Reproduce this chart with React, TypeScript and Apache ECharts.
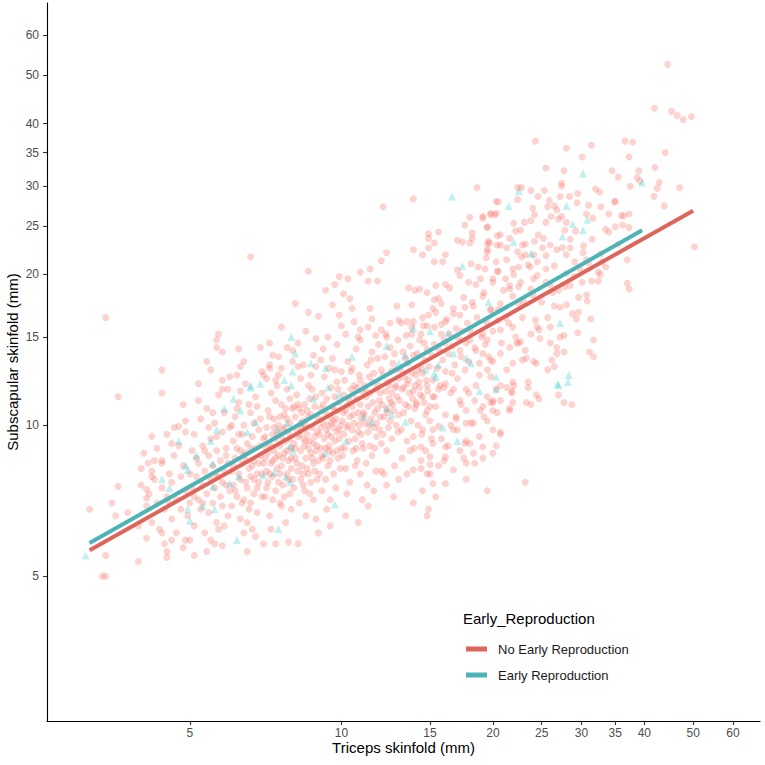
import React, { useEffect, useRef } from "react";
import * as echarts from "echarts";

// Axis tick labels (mm) shown on both log axes
const tickValues = [5, 10, 15, 20, 25, 30, 35, 40, 50, 60];
// Visible axis ranges (mm)
const xRange = [2.6, 67.9];
const yRange = [2.57, 69.6];

// Fitted lines (endpoints in mm)
const noFitX = [3.16, 50.0];
const noFitY = [5.63, 26.8];
const earlyFitX = [3.16, 39.6];
const earlyFitY = [5.82, 24.5];

// No Early Reproduction: [triceps, subscapular]
const noEarlyPoints: [number, number][] = [
  [3.16,6.8],[3.6,7.55],[3.5,7.0],[3.56,6.6],[3.76,6.7],[4.0,8.2],[4.13,8.4],[4.2,9.5],[3.4,5.5],[3.35,5.0],[3.4,5.0],[3.95,5.35],[4.1,5.95],[4.5,5.6],[4.5,5.45],[5.1,5.5],[4.9,5.9],[5.0,5.9],[5.6,5.8],[5.8,5.75],[6.5,5.6],[7.0,5.8],[7.85,5.85],[3.95,6.3],[4.4,6.1],[4.6,5.9],[4.1,7.15],[4.1,7.45],[4.2,7.9],[4.4,8.5],[4.6,9.2],[4.75,9.95],[4.9,10.2],[3.6,11.4],[4.4,11.6],[4.85,11.0],[3.4,16.4],[6.6,21.7],[4.4,12.9],[5.7,15.2],[5.65,14.8],[5.65,14.3],[5.8,14.0],[5.4,13.4],[6.25,14.2],[6.4,13.4],[5.8,12.3],[5.8,11.8],[6.2,12.6],[7.6,15.7],[7.2,14.6],[7.5,13.7],[7.2,13.2],[7.2,13.0],[7.0,12.6],[7.6,13.0],[7.4,12.3],[8.2,13.1],[8.0,14.1],
  [18.6,29.8],[13.9,28.3],[12.1,27.3],[20.3,28.0],[18.0,26.0],[19.1,25.9],[19.8,26.3],[20.2,26.3],[17.6,25.1],[19.5,24.8],[15.6,24.3],[14.9,24.1],[14.9,23.6],[15.3,23.1],[14.9,22.6],[18.2,24.2],[17.0,23.4],[17.4,23.2],[18.0,23.1],[18.2,23.6],[19.5,23.0],[19.7,23.1],[19.5,22.2],[20.4,23.9],[20.4,22.9],[13.9,22.4],[14.5,21.9],[12.3,22.1],[12.0,21.3],
  [27.7,11.1],[28.7,11.0],[27.0,11.5],[24.4,11.5],[24.7,11.3],[23.3,11.1],[23.8,11.0],[23.5,11.9],[23.5,12.2],[22.0,12.0],[21.6,10.8],[21.8,11.6],[20.7,12.0],[20.4,10.6],[20.7,9.7],[20.3,9.1],[20.0,8.8],[19.1,8.6],[18.4,8.4],[17.5,8.6],[18.0,9.2],[17.6,9.2],[17.0,9.8],[16.0,8.5],[16.3,9.1],[15.8,9.4],[15.0,8.35],[15.0,8.0],[14.7,8.9],[15.1,9.4],[15.2,9.8],[23.2,7.7],[19.5,7.4],[14.9,6.8],[14.8,6.6],[16.5,10.0],[16.9,10.3],[17.7,10.1],[18.1,10.1],[19.2,10.4],[18.9,10.7],[19.8,11.1],[20.0,11.2],
  [44.5,52.5],[41.9,42.9],[45.3,42.3],[46.5,41.5],[47.8,40.7],[49.6,41.3],[50.3,22.7],[44.0,35.0],[42.0,32.7],[42.8,30.5],[42.4,29.7],[41.8,28.6],[47.0,29.8],[43.8,27.4],[36.6,36.9],[37.9,36.7],[37.3,34.3],[39.0,32.2],[38.7,31.2],[39.2,30.7],[37.5,30.0],[34.5,32.2],[35.5,31.3],[35.0,27.9],[36.4,26.2],[37.3,26.4],[36.0,26.2],[35.0,24.9],[36.2,25.1],[37.3,24.8],[37.0,21.4],[37.0,19.2],[37.3,18.7],[31.4,36.2],[30.1,34.3],[28.0,35.7],[24.3,36.9],[25.5,32.6],[27.7,32.2],[27.4,30.4],[27.4,30.0],[29.5,29.0],[29.4,27.8],[28.4,28.6],[31.0,27.5],[32.0,29.6],[32.6,29.2],[32.8,27.3],[34.9,28.0],[33.5,24.6],[34.0,24.3],[31.6,25.9],[30.7,26.4],
  [31.7,14.8],[31.1,14.0],[31.7,13.7],[31.3,16.3],[29.6,18.0],[30.7,18.2],[30.8,17.7],[29.6,16.8],[28.0,17.4],[28.8,16.7],[29.3,16.3],[32.4,19.4],[32.7,20.0],[31.4,19.4],[32.4,20.2],[33.0,21.2],[30.7,21.4],[30.2,22.1],[27.2,15.0],[27.7,15.1],[26.0,14.6],[26.8,14.3],[26.8,13.9],[27.7,14.0],[25.7,12.9],[26.5,13.1],[24.4,13.3],[24.1,13.4],[22.3,14.6],[22.7,14.7],[22.9,13.5],[23.3,13.6],[24.5,15.7],[24.7,15.5],[21.3,11.9],[21.8,11.7],[19.8,12.5],[20.0,11.1],
  [22.4,29.8],[22.8,29.8],[23.8,29.4],[22.4,28.2],[25.3,29.4],[25.9,28.1],[26.5,27.4],[27.2,28.6],[24.6,28.6],[24.0,27.1],[24.2,26.3],[23.8,25.6],[23.1,25.4],[22.0,25.3],[22.2,24.4],[22.7,24.5],[22.9,22.9],[22.4,22.2],[22.8,21.7],[21.9,20.5],[25.7,27.3],[26.1,26.1],[25.5,25.4],[26.8,26.9],[27.0,25.8],[27.4,26.1],[28.0,25.4],[27.8,24.5],[24.6,24.0],[24.2,23.3],[25.1,22.6],[26.0,22.9],[24.1,21.9],[24.5,21.2],[23.7,20.7],[25.5,20.5],[24.1,19.6],[25.5,19.3],[22.7,19.3],[23.8,18.7],[21.9,18.1],[22.5,17.5],[26.3,18.4],[26.5,17.3],[28.0,21.9],[28.5,22.6],[29.1,21.2],[29.8,20.5],[30.1,19.3],[28.5,19.0],[27.2,17.2],[25.7,16.4],[24.3,16.2],[22.9,16.4],[23.8,15.2],[26.0,15.7],[21.9,15.7],[20.7,15.5],[19.5,14.8],[20.7,13.9],[19.8,13.5],
  [19.1,26.1],[19.8,26.5],[20.5,27.9],[20.3,26.5],[19.5,24.9],[20.7,24.0],[19.6,23.3],[19.5,22.4],[20.7,22.9],[21.3,22.6],[21.6,23.6],[20.3,21.2],[19.3,20.5],[20.5,20.3],[20.0,19.3],[21.2,19.6],[21.6,18.7],[20.7,17.5],[19.1,18.1],[19.8,17.0],[21.2,16.4],[19.1,15.2],[20.5,16.2],
  [8.6,20.3],[9.7,19.1],[9.9,19.8],[10.1,18.3],[10.9,20.2],[11.4,20.5],[11.3,19.4],[11.8,19.4],[10.5,17.1],[11.4,17.1],[11.5,16.3],[10.9,15.5],[11.3,15.7],[10.9,14.8],[11.7,15.1],[12.0,15.5],[12.3,15.0],[12.5,16.0],[12.9,17.3],[13.0,16.2],[13.5,16.1],[13.6,18.8],[13.8,17.4],[14.0,18.6],[14.3,18.7],[14.8,18.4],[15.3,17.8],[15.4,19.0],[16.1,19.1],[15.9,21.2],[15.3,21.2],[16.1,21.9],[17.2,19.9],[17.9,19.3],[18.5,19.1],[18.7,20.7],[19.4,21.6],[20.0,19.6],[20.4,20.3],[21.6,19.0],[22.5,20.7],[23.2,21.9],[18.3,17.3],[17.6,17.2],[16.7,16.7],[15.8,17.5],[15.2,17.1],[14.5,16.4],[14.8,15.8],[13.9,16.1],[13.8,15.2],[14.4,15.2],[15.3,15.7],[15.8,15.2],[16.1,16.1],
  [16.1,14.6],[17.2,14.1],[18.0,14.8],[18.5,14.1],[19.1,13.9],[18.8,13.3],[19.5,12.9],[20.0,13.4],[21.6,14.3],[22.5,14.6],[23.2,14.1],[21.9,13.3],[21.3,12.9],[21.9,12.2],[20.3,11.8],[19.5,11.4],[20.7,11.2],[21.9,11.1],[21.6,10.7],[20.0,10.7],[19.1,10.9],[18.4,11.2],[17.7,11.8],[17.2,11.2],[16.7,11.8],[16.1,12.1],[15.6,11.8],[15.2,11.4],[14.5,11.4],[14.1,11.1],[14.8,10.7],[15.4,10.9],[16.1,10.5],[16.9,10.4],[17.7,10.7],[18.3,10.1],[19.5,10.2],[20.0,9.8],[20.7,9.6],[18.8,9.5],[17.7,9.3],[16.7,9.8],[15.6,9.95],[15.0,10.2],[14.5,9.8],[13.9,9.5],[14.4,9.05],[15.2,9.2],[16.1,9.05],[17.2,8.9],[18.3,8.8],[19.1,9.05],[17.7,8.4],[16.1,8.65],[15.0,8.65],[14.4,8.5],[13.9,8.15],[14.8,8.0],[15.6,8.3],[16.7,8.15],[17.7,7.8],[16.1,7.65],[15.2,7.65],[14.5,7.4],[15.4,7.2],[13.9,7.0],
  [4.0,7.6],[4.05,8.8],[4.1,6.9],[4.15,7.3],[4.2,8.1],[4.2,6.4],[4.25,7.8],[4.3,9.0],[4.3,7.0],[4.35,6.2],[4.4,7.5],[4.4,8.4],[4.45,6.8],[4.5,9.6],[4.5,7.2],[4.55,8.0],[4.6,6.5],[4.6,7.7],[4.65,8.7],[4.7,7.1],[4.7,6.1],[4.75,9.1],[4.8,7.9],[4.8,6.8],[4.85,8.3],[4.9,7.4],[4.9,9.7],[4.95,6.6],[5.0,8.0],[5.0,7.0],[4.45,5.8],[4.65,9.9],[4.85,5.7],[4.25,8.5],[4.55,7.0],
  [5.05,7.5],[5.05,8.9],[5.1,6.3],[5.1,9.6],[5.15,7.9],[5.2,7.1],[5.2,8.4],[5.25,10.3],[5.25,6.8],[5.3,7.6],[5.3,9.1],[5.35,8.1],[5.35,6.1],[5.4,7.3],[5.4,10.8],[5.45,8.7],[5.45,6.7],[5.5,7.8],[5.5,9.4],[5.5,5.9],[5.55,8.3],[5.55,7.0],[5.6,10.1],[5.6,7.5],[5.65,8.9],[5.65,6.4],[5.7,7.9],[5.7,11.5],[5.75,8.5],[5.75,7.2],[5.8,9.7],[5.8,6.9],[5.85,8.1],[5.85,10.6],[5.9,7.6],[5.9,9.0],[5.95,6.6],[5.95,8.4],[6.0,7.4],[6.0,9.9],[5.15,8.6],[5.3,7.0],[5.45,9.9],[5.6,8.0],[5.7,6.2],[5.9,8.7],[5.2,11.2],[5.4,5.6],[5.65,9.5],[5.8,7.7],[5.35,8.9],[5.55,10.6],[5.85,6.3],[5.1,7.2],[5.95,11.8],
  [6.05,8.1],[6.05,6.9],[6.1,9.3],[6.1,7.6],[6.15,10.4],[6.15,8.6],[6.2,7.2],[6.2,9.0],[6.25,11.1],[6.25,8.0],[6.3,6.5],[6.3,7.8],[6.35,9.6],[6.35,8.4],[6.4,7.1],[6.4,10.0],[6.45,8.8],[6.45,12.1],[6.5,7.5],[6.5,9.2],[6.55,6.8],[6.55,8.2],[6.6,10.6],[6.6,7.9],[6.65,9.5],[6.65,6.2],[6.7,8.5],[6.7,7.3],[6.75,11.4],[6.75,9.0],[6.8,8.0],[6.8,6.7],[6.85,9.8],[6.85,7.7],[6.9,10.3],[6.9,8.7],[6.95,7.2],[6.95,12.8],[7.0,8.4],[7.0,9.4],[6.1,8.3],[6.2,10.8],[6.3,8.9],[6.4,6.1],[6.5,8.5],[6.6,9.0],[6.7,10.1],[6.8,7.5],[6.9,9.1],[6.15,7.4],[6.35,7.0],[6.55,11.0],[6.75,6.0],[6.95,8.0],[6.45,7.7],[6.65,8.3],[6.85,8.4],[6.25,9.6],[6.6,7.0],[6.05,10.0],[6.4,8.7],[6.8,10.9],[6.3,11.7],[6.7,7.8],[6.5,6.4],
  [7.05,8.6],[7.05,7.2],[7.1,9.9],[7.1,8.1],[7.15,10.7],[7.15,7.7],[7.2,9.2],[7.2,6.6],[7.25,8.4],[7.25,11.6],[7.3,9.6],[7.3,7.9],[7.35,8.9],[7.35,10.3],[7.4,7.4],[7.4,9.4],[7.45,8.2],[7.45,12.0],[7.5,10.0],[7.5,8.7],[7.55,7.0],[7.55,9.1],[7.6,11.0],[7.6,8.3],[7.65,9.8],[7.65,7.6],[7.7,8.8],[7.7,10.5],[7.75,6.4],[7.75,9.3],[7.8,8.0],[7.8,11.8],[7.85,9.7],[7.85,8.5],[7.9,7.3],[7.9,10.1],[7.95,9.0],[7.95,8.2],[8.0,10.8],[8.0,7.8],[7.1,9.0],[7.2,10.4],[7.3,7.1],[7.4,11.2],[7.5,7.7],[7.6,9.5],[7.7,7.2],[7.8,8.9],[7.9,9.4],[7.15,8.8],[7.35,9.9],[7.55,8.0],[7.75,10.8],[7.95,6.8],[7.25,6.2],[7.45,9.7],[7.65,8.6],[7.85,7.8],[7.05,9.5],[7.5,12.6],[7.7,9.9],[7.3,8.5],[7.9,11.3],[7.6,6.9],[7.4,8.6],[7.8,10.3],[7.1,7.5],[7.55,10.4],[7.2,8.0],[7.95,8.6],
  [8.05,9.2],[8.05,7.5],[8.1,10.4],[8.1,8.6],[8.15,9.8],[8.15,11.5],[8.2,8.1],[8.2,9.5],[8.25,7.0],[8.25,10.8],[8.3,8.9],[8.3,12.4],[8.35,9.9],[8.35,8.3],[8.4,7.6],[8.4,10.2],[8.45,9.1],[8.45,11.0],[8.5,8.6],[8.5,6.6],[8.55,9.6],[8.55,10.7],[8.6,8.0],[8.6,12.0],[8.65,9.3],[8.65,7.3],[8.7,10.5],[8.7,8.8],[8.75,9.9],[8.75,11.8],[8.8,8.4],[8.8,7.1],[8.85,9.5],[8.85,10.9],[8.9,8.9],[8.9,13.1],[8.95,9.7],[8.95,7.8],[9.0,10.3],[9.0,8.5],[8.1,9.0],[8.2,11.0],[8.3,7.8],[8.4,9.4],[8.5,10.0],[8.6,9.0],[8.7,7.7],[8.8,9.2],[8.9,11.4],[8.15,8.4],[8.35,10.6],[8.55,8.2],[8.75,8.6],[8.95,9.1],[8.25,9.6],[8.45,7.4],[8.65,11.3],[8.85,8.1],[8.05,10.9],[8.5,9.3],[8.7,12.6],[8.3,10.1],[8.9,6.5],[8.6,10.4],[8.4,8.0],
  [9.05,9.6],[9.05,8.0],[9.1,10.8],[9.1,9.0],[9.15,11.6],[9.15,7.4],[9.2,10.1],[9.2,8.6],[9.25,12.5],[9.25,9.4],[9.3,7.8],[9.3,10.6],[9.35,9.8],[9.35,11.3],[9.4,8.3],[9.4,10.0],[9.45,9.1],[9.45,13.0],[9.5,10.4],[9.5,7.1],[9.55,9.5],[9.55,11.9],[9.6,8.8],[9.6,10.9],[9.65,9.9],[9.65,8.0],[9.7,11.4],[9.7,9.3],[9.75,10.3],[9.75,7.5],[9.8,9.7],[9.8,12.2],[9.85,8.6],[9.85,10.7],[9.9,9.4],[9.9,11.1],[9.95,8.2],[9.95,10.0],[10.0,9.0],[10.0,12.8],[9.1,9.9],[9.3,9.0],[9.5,8.5],[9.7,10.7],[9.9,9.8],[9.2,11.0],[9.4,9.6],[9.6,13.6],[9.8,8.9],[9.35,6.8],[9.65,10.2],[9.15,8.7],[9.55,10.1],[9.85,11.8],[9.45,8.9],
  [10.05,10.2],[10.05,8.7],[10.1,11.5],[10.1,9.6],[10.15,12.3],[10.2,10.7],[10.2,8.2],[10.25,9.9],[10.3,11.0],[10.3,13.4],[10.35,9.3],[10.4,10.4],[10.4,7.7],[10.45,11.8],[10.5,9.8],[10.5,10.9],[10.55,8.9],[10.6,12.0],[10.6,10.1],[10.65,9.4],[10.7,11.3],[10.7,14.2],[10.75,8.5],[10.8,10.6],[10.8,9.7],[10.85,12.6],[10.9,11.0],[10.9,8.0],[10.95,10.3],[11.0,9.2],[11.0,11.7],[10.15,9.0],[10.35,11.3],[10.55,10.5],[10.75,11.9],[10.95,9.6],[10.25,7.3],[10.45,12.8],[10.65,8.3],[10.85,10.0],[10.1,10.6],[10.5,13.0],[10.9,12.3],[10.3,10.0],[10.7,9.0],
  [11.05,10.6],[11.05,9.0],[11.1,12.0],[11.15,10.1],[11.2,8.4],[11.2,11.4],[11.25,13.2],[11.3,9.7],[11.3,10.9],[11.35,12.5],[11.4,9.1],[11.4,11.6],[11.45,10.3],[11.5,14.0],[11.5,8.7],[11.55,11.1],[11.6,9.9],[11.6,12.7],[11.65,10.6],[11.7,8.1],[11.7,11.8],[11.75,9.5],[11.8,10.8],[11.8,13.6],[11.85,12.0],[11.9,9.8],[11.9,11.2],[11.95,10.4],[12.0,12.9],[12.0,9.2],[11.15,11.8],[11.35,10.0],[11.55,12.2],[11.75,10.1],[11.95,11.6],[11.25,7.6],[11.45,13.5],[11.65,9.0],[11.85,14.5],[11.1,10.5],
  [12.05,11.0],[12.1,9.6],[12.1,12.6],[12.15,10.4],[12.2,13.7],[12.25,11.7],[12.3,8.9],[12.3,10.8],[12.35,12.2],[12.4,9.9],[12.45,11.3],[12.5,14.3],[12.5,10.2],[12.55,12.8],[12.6,9.4],[12.6,11.6],[12.65,13.3],[12.7,10.7],[12.75,8.3],[12.8,11.9],[12.8,12.9],[12.85,10.0],[12.9,11.4],[12.95,14.8],[13.0,10.5],[13.0,12.4],[12.15,8.0],[12.35,10.6],[12.55,11.1],[12.75,13.9],[12.95,9.7],[12.25,15.2],[12.65,11.0],[12.45,12.0],[12.85,12.0],
  [13.05,11.2],[13.1,12.9],[13.15,9.8],[13.2,11.8],[13.25,14.0],[13.3,10.6],[13.35,12.5],[13.4,11.0],[13.45,15.1],[13.5,9.3],[13.5,12.1],[13.55,13.3],[13.6,10.9],[13.65,11.6],[13.7,14.4],[13.75,10.2],[13.8,12.7],[13.85,11.3],[13.9,13.8],[13.95,9.0],[14.0,12.0],[14.0,10.8],[13.2,8.6],[13.4,13.6],[13.6,12.3],[13.8,15.7],[13.3,11.9],[13.7,8.9],[13.9,11.7],[13.15,16.0],
  [14.05,12.6],[14.1,11.0],[14.15,13.9],[14.2,10.0],[14.25,12.2],[14.3,14.8],[14.35,11.5],[14.4,13.0],[14.45,9.6],[14.5,12.7],[14.55,15.8],[14.6,11.1],[14.65,13.5],[14.7,10.5],[14.75,12.3],[14.8,14.2],[14.85,11.7],[14.9,16.6],[14.95,13.1],[15.0,10.9],[14.2,12.9],[14.4,8.2],[14.6,14.6],[14.8,12.0],[14.3,11.9],
  [15.1,13.8],[15.2,12.3],[15.3,14.5],[15.4,16.8],[15.5,13.0],[15.6,14.2],[15.7,12.0],[15.8,15.9],[15.9,13.5],[16.0,14.8],[16.1,12.8],[16.2,16.3],[16.3,13.9],[16.4,15.2],[16.5,11.6],[16.6,14.4],[16.7,17.1],[16.8,13.2],[16.9,15.6],[17.0,12.4],[17.1,14.9],[17.2,16.6],[17.3,13.7],[17.4,15.4],[17.5,18.0],[17.6,12.9],[17.7,14.6],[17.8,16.0],[17.9,13.4],[18.0,15.5],[18.2,17.6],[18.4,14.3],[18.6,16.4],[18.8,12.6],[19.0,15.0],[19.2,18.4],[19.4,16.1],[19.6,13.7],[19.8,17.0],[20.0,15.4],[15.6,17.9],[16.4,18.8],[17.0,20.4],[18.1,21.0],[18.9,19.6],[16.0,11.9],[17.3,11.0],[18.5,12.0],[19.3,14.5],[15.3,11.4],[16.6,12.7],[17.9,11.6],
  [20.5,17.0],[21.0,18.6],[21.5,16.0],[22.0,20.0],[22.5,18.9],[23.0,17.7],[23.5,20.9],[24.0,18.2],[24.5,19.9],[25.0,17.6],[25.5,21.8],[26.0,19.1],[26.5,20.8],[27.0,18.6],[27.5,22.6],[28.0,20.1],[28.5,23.5],[29.0,19.8],[21.3,21.4],[23.2,23.0],[25.2,23.6],[26.8,22.4],[29.2,24.4],[30.3,22.8],[31.5,23.5],[32.8,22.0],[34.0,26.4],[35.5,23.0],[33.5,20.7],[31.0,21.1],[22.2,15.0],[24.8,14.9],[26.2,13.5],[20.8,14.6],[29.5,15.3],[27.8,18.9],
  [8.2,14.6],[8.5,15.4],[8.8,13.8],[9.0,16.5],[9.2,14.2],[9.4,15.0],[9.6,17.4],[9.8,14.5],[10.0,15.8],[8.4,13.2],[9.1,13.5],[9.7,12.9],[8.6,16.8],[9.3,18.6],[9.9,16.6],[8.0,13.4],[8.9,14.9],[10.2,15.2],[10.4,17.9],[10.6,16.1],[10.8,15.0],[7.3,13.8],[7.8,14.3],[7.1,12.4],[6.9,14.3],[6.3,13.1],[6.0,12.5],[5.5,12.9],[5.2,12.1],[10.3,19.6],[8.1,17.5],
  [9.5,6.3],[10.2,6.6],[11.0,7.1],[11.6,7.4],[12.3,7.6],[13.0,7.8],[10.8,6.4],[9.0,6.1],[12.7,7.2],[11.3,6.9],[8.2,5.8],[7.4,5.8],[13.5,8.0],[12.0,8.1]
];

// Early Reproduction: [triceps, subscapular]
const earlyPoints: [number, number][] = [
  [3.1,5.5],[4.75,9.3],[4.9,8.3],[4.4,7.8],[4.55,7.5],[4.95,8.15],[5.15,8.7],[5.5,9.3],[5.65,9.8],[5.55,8.4],[5.85,10.8],[6.1,11.3],[6.3,10.7],[6.6,11.9],[6.5,9.7],[6.75,10.15],[6.0,7.65],[5.3,6.9],[4.95,6.8],[5.0,6.45],[5.6,6.8],[6.2,5.9],[7.5,6.2],[7.0,7.95],[7.35,8.05],[8.0,8.9],[7.9,7.7],[6.25,7.9],[5.55,7.55],
  [7.95,15.0],[8.1,13.9],[8.0,12.8],[7.7,12.3],[7.95,12.0],[6.9,12.1],[6.6,12.0],
  [8.7,13.3],[9.3,13.0],[10.5,13.7],[9.4,11.9],[9.9,11.5],[12.3,14.4],[13.4,13.8],[13.0,13.3],[13.9,15.6],[15.0,15.4],[16.3,15.3],[17.4,20.8],[19.6,17.6],[16.7,13.9],[17.7,13.6],[18.1,13.3],[14.7,12.9],[15.3,12.7],[15.4,12.5],[15.6,13.2],[8.8,11.3],[11.1,10.4],[12.6,10.5],[12.3,10.8],[13.4,10.15],[15.9,9.9],[9.3,8.8],[10.2,9.3],[11.5,10.15],[7.8,10.1],[8.3,10.1],[7.9,9.1],[7.75,7.9],[9.7,6.95],[7.5,9.8],
  [16.6,28.6],[27.0,12.0],[28.2,12.2],[17.0,9.3],[18.8,11.7],[20.3,11.8],
  [39.6,30.5],[30.2,31.8],[28.0,27.4],[28.8,25.2],[30.8,25.7],[30.2,24.5],[27.5,23.8],[21.5,27.4],[22.5,29.3],[22.0,23.2],[23.8,22.0],[27.2,16.0],[20.3,12.5],[26.9,12.1],[28.3,12.6]
];

const lg = (v: number) => Math.log10(v);

export default function App() {
  const ref = useRef<HTMLDivElement>(null);
  useEffect(() => {
    if (!ref.current) return;
    const chart = echarts.init(ref.current, undefined, { renderer: "svg" });
    const font = "'Liberation Sans', Arial, sans-serif";
    const tickLogs = tickValues.map(lg);
    const axisCommon = {
      type: "value" as const,
      splitLine: { show: false },
      axisLine: { show: true, lineStyle: { color: "#000", width: 1.1 } },
      axisTick: { show: true, customValues: tickLogs, length: 4, lineStyle: { color: "#333", width: 1.1 } },
      axisLabel: {
        customValues: tickLogs,
        formatter: (v: number) => String(Math.round(Math.pow(10, v))),
        color: "#4d4d4d",
        fontSize: 12,
        fontFamily: font,
      },
      nameLocation: "middle" as const,
      nameMoveOverlap: false,
      nameTextStyle: { fontSize: 15, color: "#000", fontFamily: font },
    };
    chart.setOption({
      animation: false,
      textStyle: { fontFamily: font },
      grid: { left: 47, right: 5, top: 3, bottom: 44, containLabel: false, outerBoundsMode: "none" },
      title: {
        text: "Early_Reproduction",
        left: 463,
        top: 611,
        padding: 0,
        textStyle: { fontSize: 15, fontWeight: "normal", color: "#000", fontFamily: font },
      },
      legend: {
        data: ["No Early Reproduction", "Early Reproduction"],
        orient: "vertical",
        left: 466,
        top: 641,
        padding: 0,
        itemWidth: 21,
        itemHeight: 5,
        itemGap: 10,
        icon: "rect",
        textStyle: { fontSize: 13, color: "#1a1a1a", fontFamily: font, lineHeight: 16, padding: [0, 0, 0, 6] },
      },
      xAxis: {
        ...axisCommon,
        min: lg(xRange[0]),
        max: lg(xRange[1]),
        axisLabel: { ...axisCommon.axisLabel, margin: 6 },
        name: "Triceps skinfold (mm)",
        nameGap: 19,
      },
      yAxis: {
        ...axisCommon,
        min: lg(yRange[0]),
        max: lg(yRange[1]),
        axisLabel: { ...axisCommon.axisLabel, margin: 8 },
        name: "Subscapular skinfold (mm)",
        nameGap: 27,
      },
      series: [
        {
          name: "noPts",
          type: "scatter",
          silent: true,
          symbol: "circle",
          symbolSize: 7,
          itemStyle: { color: "#F8766D", opacity: 0.32 },
          data: noEarlyPoints.map(([x, y]) => [lg(x), lg(y)]),
        },
        {
          name: "earlyPts",
          type: "scatter",
          silent: true,
          symbol: "triangle",
          symbolSize: 8,
          itemStyle: { color: "#00BFC4", opacity: 0.24 },
          data: earlyPoints.map(([x, y]) => [lg(x), lg(y)]),
        },
        {
          name: "No Early Reproduction",
          type: "line",
          silent: true,
          showSymbol: false,
          symbol: "none",
          lineStyle: { width: 4, color: "#DF655B" },
          itemStyle: { color: "#DF655B" },
          data: noFitX.map((x, i) => [lg(x), lg(noFitY[i])]),
        },
        {
          name: "Early Reproduction",
          type: "line",
          silent: true,
          showSymbol: false,
          symbol: "none",
          lineStyle: { width: 4, color: "#4CB3B6" },
          itemStyle: { color: "#4CB3B6" },
          data: earlyFitX.map((x, i) => [lg(x), lg(earlyFitY[i])]),
        },
      ],
    });
    return () => chart.dispose();
  }, []);
  return <div ref={ref} style={{ position: "absolute", left: 0, top: 0, width: 765, height: 765 }} />;
}
